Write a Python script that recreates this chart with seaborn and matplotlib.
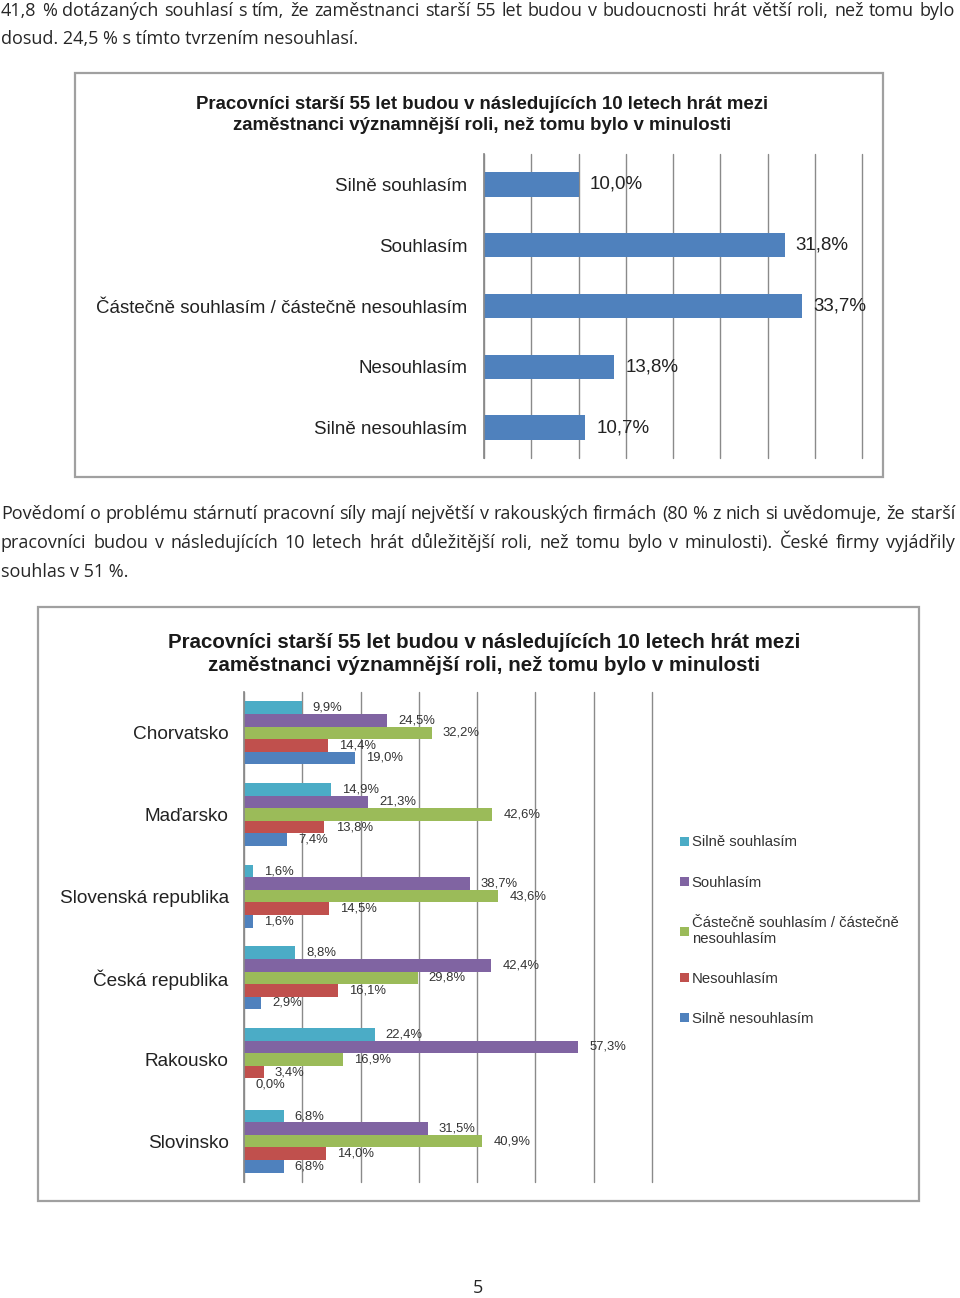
import pandas as pd
import seaborn as sns
import matplotlib.pyplot as plt
from matplotlib.patches import Rectangle

# rozměry stránky v pixelech
W, H = 960, 1298

# data – graf 1 (celkem)
odpovedi = ['Silně souhlasím', 'Souhlasím', 'Částečně souhlasím / částečně nesouhlasím',
            'Nesouhlasím', 'Silně nesouhlasím']
celkem = [10.0, 31.8, 33.7, 13.8, 10.7]

# data – graf 2 (podle zemí)
zeme = ['Chorvatsko', 'Maďarsko', 'Slovenská republika', 'Česká republika', 'Rakousko', 'Slovinsko']
silne_souhlasim = [9.9, 14.9, 1.6, 8.8, 22.4, 6.8]
souhlasim = [24.5, 21.3, 38.7, 42.4, 57.3, 31.5]
castecne = [32.2, 42.6, 43.6, 29.8, 16.9, 40.9]
nesouhlasim = [14.4, 13.8, 14.5, 16.1, 3.4, 14.0]
silne_nesouhlasim = [19.0, 7.4, 1.6, 2.9, 0.0, 6.8]
legenda = ['Silně souhlasím', 'Souhlasím', 'Částečně souhlasím / částečně\nnesouhlasím',
           'Nesouhlasím', 'Silně nesouhlasím']

barvy = ['#4BACC6', '#8064A2', '#9BBB59', '#C0504D', '#4F81BD']

titulek = ('Pracovníci starší 55 let budou v následujících 10 letech hrát mezi\n'
           'zaměstnanci významnější roli, než tomu bylo v minulosti')

odstavec1 = ['41,8 % dotázaných souhlasí s tím, že zaměstnanci starší 55 let budou v budoucnosti hrát větší roli, než tomu bylo',
             'dosud. 24,5 % s tímto tvrzením nesouhlasí.']
odstavec2 = ['Povědomí o problému stárnutí pracovní síly mají největší v rakouských firmách (80 % z nich si uvědomuje, že starší',
             'pracovníci budou v následujících 10 letech hrát důležitější roli, než tomu bylo v minulosti). České firmy vyjádřily',
             'souhlas v 51 %.']

sns.set_theme(style='white')
plt.rcParams['font.family'] = ['Liberation Sans', 'DejaVu Sans']
TEXT_FONT = ['Open Sans', 'DejaVu Sans']
GRID = '#8a8a8a'

fig = plt.figure(figsize=(W / 100, H / 100), dpi=100)
renderer = fig.canvas.get_renderer()


def box(l, t, r, b):
    return [l / W, 1 - b / H, (r - l) / W, (b - t) / H]


def size_for(s, width, **kw):
    # velikost písma tak, aby text měl danou šířku v px
    t = fig.text(0, 0, s, fontsize=10, **kw)
    w = t.get_window_extent(renderer).width
    t.remove()
    return 10 * width / w


def fmt(v):
    return f'{v:.1f}'.replace('.', ',') + '%'


def justify(line, y, size, x0=1, x1=955):
    words = line.split(' ')
    texts = [fig.text(0, 1 - y / H, w, fontsize=size, family=TEXT_FONT, va='baseline') for w in words]
    widths = [t.get_window_extent(renderer).width for t in texts]
    gap = (x1 - x0 - sum(widths)) / (len(words) - 1)
    x = x0
    for t, w in zip(texts, widths):
        t.set_x(x / W)
        x += w + gap


# ---- odstavce textu
fs_text = size_for(odstavec1[1], 357, family=TEXT_FONT)
justify(odstavec1[0], 16, fs_text)
fig.text(1 / W, 1 - 44 / H, odstavec1[1], fontsize=fs_text, family=TEXT_FONT, va='baseline')
justify(odstavec2[0], 519, fs_text)
justify(odstavec2[1], 548, fs_text)
fig.text(1 / W, 1 - 577 / H, odstavec2[2], fontsize=fs_text, family=TEXT_FONT, va='baseline')
fig.text(478 / W, 1 - 1288 / H, '5', fontsize=fs_text, family=TEXT_FONT, va='center', ha='center')

# ---- rámečky grafů
for l, t, r, b in [(75, 73, 883, 477), (38, 607, 919, 1201)]:
    fig.patches.append(Rectangle((l / W, 1 - b / H), (r - l) / W, (b - t) / H, transform=fig.transFigure,
                                 fill=False, edgecolor='#a0a0a0', lw=1.6))


def styl_osy(ax, xmax, krok, fs, pad):
    ax.set_xlim(0, xmax)
    ax.set_xticks(range(0, xmax + 1, krok))
    ax.grid(axis='x', color=GRID, lw=1)
    for gl in ax.get_xgridlines():
        gl.set_clip_on(False)
    ax.set_axisbelow(True)
    ax.tick_params(axis='x', length=0, labelbottom=False)
    ax.tick_params(axis='y', length=0, pad=pad, labelsize=fs, labelcolor='#222222')
    ax.set_xlabel('')
    ax.set_ylabel('')
    for s in ['top', 'right', 'bottom']:
        ax.spines[s].set_visible(False)
    ax.spines['left'].set_color(GRID)


# ---- graf 1
df1 = pd.DataFrame({'odpoved': odpovedi, 'podil': celkem})
ax1 = fig.add_axes(box(484, 154, 862, 458))
sns.barplot(data=df1, x='podil', y='odpoved', color='#4F81BD', saturation=1, width=0.4,
            linewidth=0, ax=ax1)
fs1 = size_for(odpovedi[2], 374)
ax1.bar_label(ax1.containers[0], labels=[fmt(v) for v in celkem], padding=8, fontsize=fs1, color='#222222')
styl_osy(ax1, 40, 5, fs1, 12)
fs_t1 = size_for(titulek.split('\n')[0], 577, fontweight='bold')
fig.text(482 / W, 1 - 115 / H, titulek, fontsize=fs_t1, fontweight='bold', ha='center', va='center',
         linespacing=1.28, color='#1a1a1a')

# ---- graf 2
df2 = pd.DataFrame({
    'zeme': zeme * 5,
    'odpoved': sum([[o] * len(zeme) for o in odpovedi], []),
    'podil': silne_souhlasim + souhlasim + castecne + nesouhlasim + silne_nesouhlasim,
})
serie = [silne_souhlasim, souhlasim, castecne, nesouhlasim, silne_nesouhlasim]
ax2 = fig.add_axes(box(244, 692, 652, 1182))
sns.barplot(data=df2, x='podil', y='zeme', hue='odpoved', hue_order=odpovedi, palette=barvy,
            saturation=1, width=0.77, linewidth=0, ax=ax2)
fs_val = size_for('42,6%', 37)
for cont, vals in zip(ax2.containers, serie):
    ax2.bar_label(cont, labels=[fmt(v) for v in vals], padding=8, fontsize=fs_val, color='#333333')
fs2 = size_for(zeme[2], 170)
styl_osy(ax2, 70, 10, fs2, 11)
handles, _ = ax2.get_legend_handles_labels()
fs_leg = size_for(legenda[2].split('\n')[0], 208)
ax2.legend(handles, legenda, loc='upper left', bbox_to_anchor=(667 / W, 1 - 822 / H),
           bbox_transform=fig.transFigure, frameon=False, fontsize=fs_leg, handlelength=0.55,
           handleheight=0.55, handletextpad=0.2, labelspacing=1.75, labelcolor='#333333')
fs_t2 = size_for(titulek.split('\n')[0], 634, fontweight='bold')
fig.text(484 / W, 1 - 654 / H, titulek, fontsize=fs_t2, fontweight='bold', ha='center', va='center',
         linespacing=1.25, color='#1a1a1a')

fig.savefig('out.png', dpi=100, facecolor='white')
